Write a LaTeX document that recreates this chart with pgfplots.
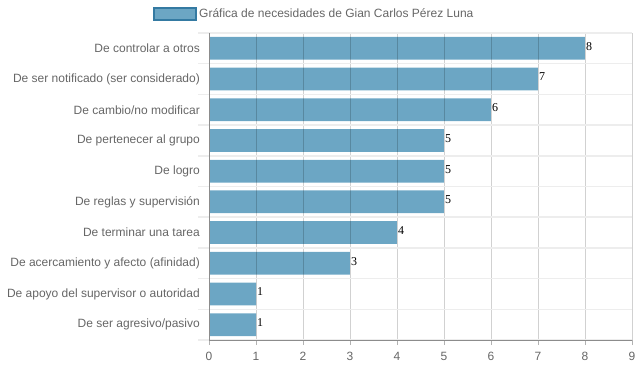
\documentclass[border=0pt]{standalone}
\usepackage{pgfplots}
\pgfplotsset{compat=1.18}
\usepackage{fontspec}
\setmainfont{Liberation Sans}
\newfontfamily\seriffont{Liberation Serif}
\definecolor{barfill}{RGB}{108,166,196}
\definecolor{barborder}{RGB}{52,122,162}
\definecolor{labgray}{RGB}{102,102,102}
\begin{document}
\fontsize{12}{14}\selectfont
\begin{tikzpicture}
\path[use as bounding box] (0,0) rectangle (639pt,372pt);
\begin{axis}[
  at={(209pt,32pt)}, anchor=south west,
  scale only axis, width=423pt, height=307pt,
  xbar, bar width=0.74,
  xmin=0, xmax=9, ymin=-0.5, ymax=9.5,
  xtick={0,...,9},
  ytick={0,...,9},
  yticklabels={De ser agresivo/pasivo,De apoyo del supervisor o autoridad,De acercamiento y afecto (afinidad),De terminar una tarea,De reglas y supervisión,De logro,De pertenecer al grupo,De cambio/no modificar,De ser notificado (ser considerado),De controlar a otros},
  minor ytick={-0.5,0.5,...,9.5},
  xmajorgrids, yminorgrids,
  major grid style={draw=black, opacity=0.18, line width=0.8pt},
  minor grid style={draw=black!7, line width=1.5pt},
  axis on top,
  axis x line*=bottom, axis y line*=left,
  axis line style={draw=black!45, line width=0.9pt},
  tick align=outside,
  major tick length=5pt, minor tick length=11pt,
  xtick style={draw=black!30, line width=0.8pt},
  major y tick style={draw=none},
  minor y tick style={draw=black!7, line width=1.5pt},
  xticklabel style={text=labgray, font=\fontsize{12}{14}\selectfont, yshift=-3pt},
  yticklabel style={text=labgray, font=\fontsize{12}{14}\selectfont, xshift=0pt},
  /pgf/number format/assume math mode=true,
  nodes near coords,
  nodes near coords style={anchor=west, inner sep=1pt, yshift=2pt, text=black, font=\seriffont\fontsize{12}{14}\selectfont},
  legend style={at={(0.249,1.062)}, anchor=center, draw=none, fill=none, text=labgray, font=\fontsize{12}{14}\selectfont, /tikz/every even column/.append style={column sep=0pt}},
  legend image code/.code={\draw[fill=barfill, draw=barborder, line width=2pt] (0pt,-6pt) rectangle (42pt,6pt);},
]
\addplot[fill=barfill, draw=none] coordinates {
(1,0) (1,1) (3,2) (4,3) (5,4) (5,5) (5,6) (6,7) (7,8) (8,9)};
\addlegendentry{Gráfica de necesidades de Gian Carlos Pérez Luna}
\end{axis}
\end{tikzpicture}
\end{document}
